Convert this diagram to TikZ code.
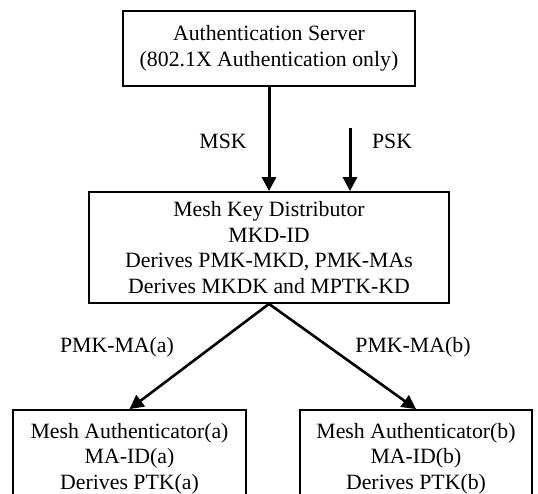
\documentclass[tikz,border=0pt]{standalone}
\usepackage{fontspec}
\setmainfont{Liberation Serif}
\usetikzlibrary{arrows.meta}

\begin{document}
\begin{tikzpicture}[x=1pt,y=-1pt,
	box/.style={draw,line width=1.8pt,align=center,inner sep=0pt,
		font=\fontsize{21.8}{25.5}\selectfont},
	lbl/.style={font=\fontsize{21.8}{25.5}\selectfont},
	key/.style={line width=3pt,-{Triangle[width=14pt,length=14pt]}},
	keyd/.style={line width=2.6pt,-{Triangle[width=14pt,length=14pt]}}]
	\useasboundingbox (0,0) rectangle (538,493);
	\clip (0,0) rectangle (538,493);

	\node[box,minimum width=292pt,minimum height=75pt] (as) at (269,48.5)
		{Authentication Server\\(802.1X Authentication only)};
	\node[box,minimum width=360pt,minimum height=111pt] (mkd) at (269,247.5)
		{Mesh Key Distributor\\MKD-ID\\Derives PMK-MKD, PMK-MAs\\Derives MKDK and MPTK-KD};
	\node[box,minimum width=233pt,minimum height=97pt] (maa) at (129.5,458.5)
		{Mesh Authenticator(a)\\MA-ID(a)\\Derives PTK(a)};
	\node[box,minimum width=232pt,minimum height=97pt] (mab) at (416,458.5)
		{Mesh Authenticator(b)\\MA-ID(b)\\Derives PTK(b)};

	\coordinate (psk) at (350,128);

	\draw[key] (as.south) -- (mkd.north);
	\draw[key] (psk) -- (psk |- mkd.north);
	\draw[keyd] (mkd.south) -- (maa.north);
	\draw[keyd] (mkd.south) -- (mab.north);

	\node[lbl] (msklbl) at (223,141) {MSK};
	\node[lbl] (psklbl) at (392,141) {PSK};
	\node[lbl] (pmka) at (117,347) {PMK-MA(a)};
	\node[lbl] (pmkb) at (413,347) {PMK-MA(b)};
\end{tikzpicture}
\end{document}
